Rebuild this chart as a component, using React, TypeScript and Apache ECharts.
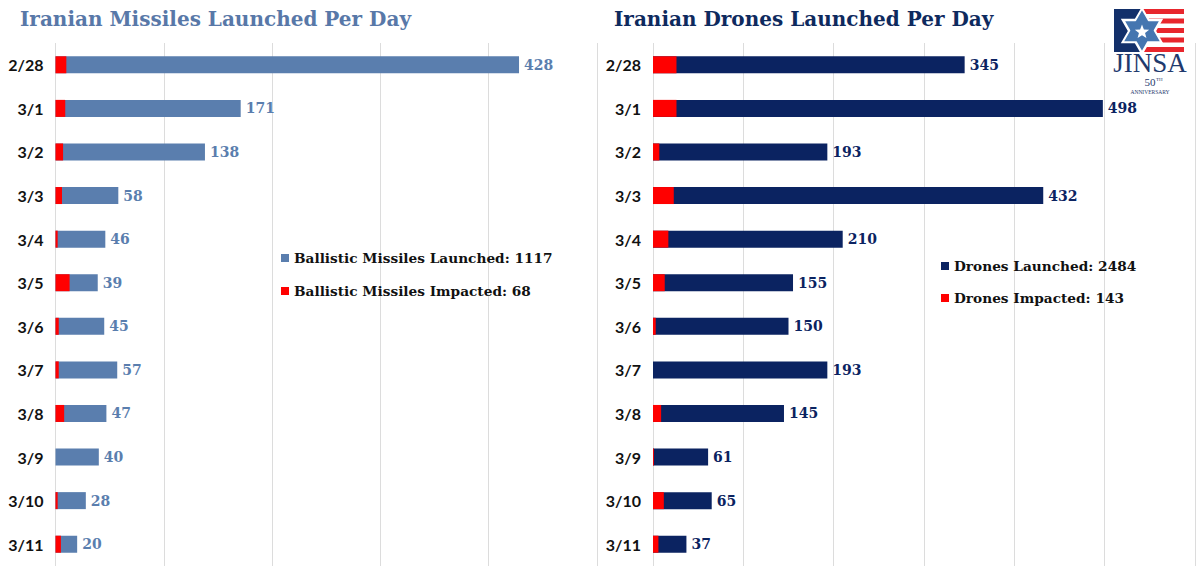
import React, { useEffect, useRef } from "react";
import * as echarts from "echarts";

const categories = ["2/28", "3/1", "3/2", "3/3", "3/4", "3/5", "3/6", "3/7", "3/8", "3/9", "3/10", "3/11"];
const missilesLaunched = [428, 171, 138, 58, 46, 39, 45, 57, 47, 40, 28, 20];
const missilesImpacted = [10, 9, 7, 6, 2, 13, 3, 3, 8, 0, 2, 5];
const dronesLaunched = [345, 498, 193, 432, 210, 155, 150, 193, 145, 61, 65, 37];
const dronesImpacted = [26, 26, 7, 23, 17, 13, 3, 0, 9, 1, 12, 6];
const missileAxisTicks = { min: 0, max: 500, interval: 100 };
const droneAxisTicks = { min: 0, max: 600, interval: 100 };

const sum = (a: number[]) => a.reduce((s, v) => s + v, 0);

const STEEL = "#5a7eae";
const NAVY = "#0b2361";
const RED = "#ff0000";
const SERIF = "DejaVu Serif";
const SANS = "Lato";

function hexagram(cx: number, cy: number, r: number, up: boolean) {
  const pts: number[][] = [];
  const start = up ? -90 : 90;
  for (let i = 0; i < 3; i++) {
    const a = ((start + i * 120) * Math.PI) / 180;
    pts.push([cx + r * Math.cos(a), cy + r * Math.sin(a)]);
  }
  return pts;
}

function star5(cx: number, cy: number, ro: number, ri: number) {
  const pts: number[][] = [];
  for (let i = 0; i < 10; i++) {
    const r = i % 2 === 0 ? ro : ri;
    const a = ((-90 + i * 36) * Math.PI) / 180;
    pts.push([cx + r * Math.cos(a), cy + r * Math.sin(a)]);
  }
  return pts;
}

export default function App() {
  const ref = useRef<HTMLDivElement>(null);

  useEffect(() => {
    document.body.style.margin = "0";
    if (!ref.current) return;
    const chart = echarts.init(ref.current, undefined, { renderer: "svg" });

    const mLName = `Ballistic Missiles Launched: ${sum(missilesLaunched)}`;
    const mIName = `Ballistic Missiles Impacted: ${sum(missilesImpacted)}`;
    const dLName = `Drones Launched: ${sum(dronesLaunched)}`;
    const dIName = `Drones Impacted: ${sum(dronesImpacted)}`;

    const catAxis = (gridIndex: number) => ({
      type: "category",
      gridIndex,
      data: categories,
      inverse: true,
      axisLine: { show: false },
      axisTick: { show: false },
      axisLabel: {
        margin: 12,
        color: "#111",
        fontFamily: SANS,
        fontWeight: "bold",
        fontSize: 16,
      },
    });

    const valAxis = (gridIndex: number, t: { min: number; max: number; interval: number }) => ({
      type: "value",
      gridIndex,
      min: t.min,
      max: t.max,
      interval: t.interval,
      axisLabel: { show: false },
      axisLine: { show: false },
      axisTick: { show: false },
      splitLine: { show: true, lineStyle: { color: "#dcdcdc", width: 1 } },
    });

    const labelStyle = (color: string) => ({
      show: true,
      position: "right",
      distance: 5,
      color,
      fontFamily: SERIF,
      fontWeight: "bold",
      fontSize: 14,
    });

    const legendText = { fontFamily: SERIF, fontWeight: "bold", fontSize: 13.7, color: "#111" };

    const cx = 1142;
    const cy = 31;

    const stripes = [9, 18.5, 28, 37.5, 47].map((y) => ({
      type: "rect",
      shape: { x: 1142, y, width: 42, height: 5 },
      style: { fill: "#e8262d" },
    }));

    chart.setOption({
      animation: false,
      backgroundColor: "#ffffff",
      title: [
        {
          text: "Iranian Missiles Launched Per Day",
          left: 20,
          top: 9,
          padding: 0,
          textStyle: { fontFamily: SERIF, fontWeight: "bold", fontSize: 20, color: "#5878a8" },
        },
        {
          text: "Iranian Drones Launched Per Day",
          left: 614,
          top: 9,
          padding: 0,
          textStyle: { fontFamily: SERIF, fontWeight: "bold", fontSize: 20, color: "#0e2a5e" },
        },
      ],
      legend: [
        {
          data: [mLName, mIName],
          orient: "vertical",
          left: 281,
          top: 251,
          padding: 0,
          icon: "rect",
          itemWidth: 8,
          itemHeight: 8,
          itemGap: 19,
          textStyle: legendText,
        },
        {
          data: [dLName, dIName],
          orient: "vertical",
          left: 941,
          top: 259,
          padding: 0,
          icon: "rect",
          itemWidth: 8,
          itemHeight: 8,
          itemGap: 18,
          textStyle: legendText,
        },
      ],
      grid: [
        { left: 55.5, top: 43, width: 541.5, height: 523 },
        { left: 653, top: 43, width: 542, height: 523 },
      ],
      yAxis: [catAxis(0), catAxis(1)],
      xAxis: [valAxis(0, missileAxisTicks), valAxis(1, droneAxisTicks)],
      series: [
        {
          type: "bar",
          name: mLName,
          xAxisIndex: 0,
          yAxisIndex: 0,
          data: missilesLaunched,
          barWidth: 17,
          barGap: "-100%",
          itemStyle: { color: STEEL },
          label: labelStyle(STEEL),
        },
        {
          type: "bar",
          name: mIName,
          xAxisIndex: 0,
          yAxisIndex: 0,
          data: missilesImpacted,
          barWidth: 17,
          barGap: "-100%",
          itemStyle: { color: RED },
        },
        {
          type: "bar",
          name: dLName,
          xAxisIndex: 1,
          yAxisIndex: 1,
          data: dronesLaunched,
          barWidth: 17,
          barGap: "-100%",
          itemStyle: { color: NAVY },
          label: labelStyle(NAVY),
        },
        {
          type: "bar",
          name: dIName,
          xAxisIndex: 1,
          yAxisIndex: 1,
          data: dronesImpacted,
          barWidth: 17,
          barGap: "-100%",
          itemStyle: { color: RED },
        },
      ],
      graphic: [
        {
          type: "group",
          z: 100,
          children: [
            { type: "rect", shape: { x: 1108, y: 4, width: 84, height: 102 }, style: { fill: "#ffffff" } },
            { type: "rect", shape: { x: 1114, y: 9, width: 28, height: 43 }, style: { fill: "#13306a" } },
            ...stripes,
            {
              type: "polygon",
              shape: { points: hexagram(cx, cy, 22, true) },
              style: { fill: "#4576b0", stroke: "#ffffff", lineWidth: 2.5 },
            },
            {
              type: "polygon",
              shape: { points: hexagram(cx, cy, 22, false) },
              style: { fill: "#4576b0", stroke: "#ffffff", lineWidth: 2.5 },
            },
            {
              type: "polygon",
              shape: { points: hexagram(cx, cy, 20.5, true) },
              style: { fill: "#4576b0" },
            },
            {
              type: "polygon",
              shape: { points: star5(cx, cy + 1, 7.5, 3.2) },
              style: { fill: "#ffffff" },
            },
            {
              type: "text",
              x: 1150,
              y: 76,
              style: {
                text: "JINSA",
                fontFamily: "Liberation Serif",
                fontSize: 27,
                fill: "#1f3a6e",
                align: "center",
                verticalAlign: "bottom",
              },
            },
            {
              type: "text",
              x: 1150,
              y: 87,
              style: {
                text: "50",
                fontFamily: "Liberation Serif",
                fontSize: 11,
                fill: "#1f3a6e",
                align: "center",
                verticalAlign: "bottom",
              },
            },
            {
              type: "text",
              x: 1156,
              y: 82,
              style: {
                text: "TH",
                fontFamily: "Liberation Serif",
                fontSize: 5,
                fill: "#1f3a6e",
                align: "left",
                verticalAlign: "bottom",
              },
            },
            {
              type: "text",
              x: 1150,
              y: 95,
              style: {
                text: "ANNIVERSARY",
                fontFamily: "Liberation Serif",
                fontSize: 5.5,
                fill: "#1f3a6e",
                align: "center",
                verticalAlign: "bottom",
              },
            },
          ],
        },
      ],
    });

    return () => chart.dispose();
  }, []);

  return <div ref={ref} style={{ width: 1200, height: 569 }} />;
}
